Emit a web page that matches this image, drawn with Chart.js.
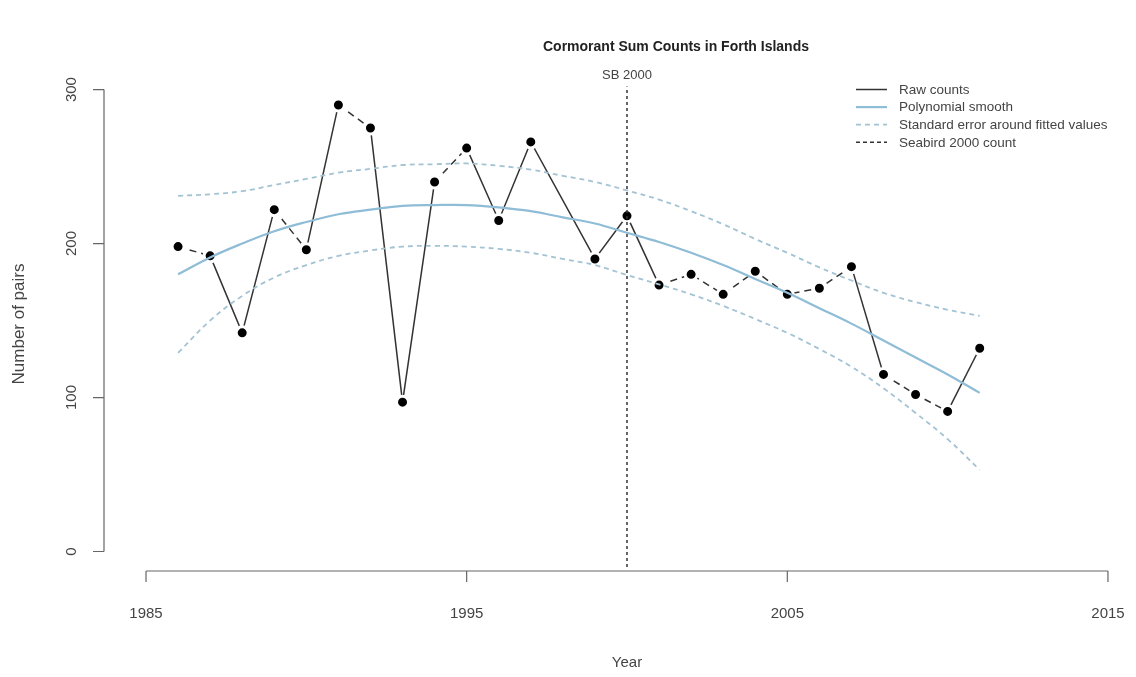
<!DOCTYPE html>
<html>
<head>
<meta charset="utf-8">
<script src="https://cdn.jsdelivr.net/npm/chart.js@4"></script>
<style>
  html, body { margin: 0; padding: 0; background: #ffffff; }
  #wrap { width: 1136px; height: 677px; position: relative; }
</style>
</head>
<body>
<div id="wrap"><canvas id="c" width="1136" height="677"></canvas></div>
<script>
// ---- data ----
const rawYears  = [1986,1987,1988,1989,1990,1991,1992,1993,1994,1995,1996,1997,1999,2000,2001,2002,2003,2004,2005,2006,2007,2008,2009,2010,2011];
const rawCounts = [198, 192, 142, 222, 196, 290, 275, 97, 240, 262, 215, 266, 190, 218, 173, 180, 167, 182, 167, 171, 185, 115, 102, 91, 132];

const fitYears   = [1986,1987,1988,1989,1990,1991,1992,1993,1994,1995,1996,1997,1998,1999,2000,2001,2002,2003,2004,2005,2006,2007,2008,2009,2010,2011];
const fitValues  = [180, 191, 200, 208, 214, 219, 222, 224.5, 225, 225, 223.5, 221, 217, 213, 207, 201, 194, 186, 177, 168, 158, 148, 137, 126, 115, 103];
const seUpper    = [231, 232, 234, 238, 242, 246, 248.5, 251, 251.5, 252, 250.5, 248, 244, 240, 234.5, 228.5, 221, 212.5, 203, 194, 184.5, 176, 168, 162, 157, 153];
const seLower    = [129, 150, 166, 178, 186, 192, 195.5, 198, 198.5, 198, 196.5, 194, 190, 186, 179.5, 173.5, 167, 159.5, 151, 142, 131.5, 120, 106, 90, 73, 53];

const sbYear   = 2000;
const sbSpan   = [-10, 302];
const xTicks   = [1985, 1995, 2005, 2015];
const yTicks   = [0, 100, 200, 300];

const titleText = 'Cormorant Sum Counts in Forth Islands';
const xTitle = 'Year';
const yTitle = 'Number of pairs';
const sbLabel = 'SB 2000';

// ---- build chart ----
const pts = (xs, ys) => xs.map((x, i) => ({ x: x, y: ys[i] }));

const FONT = '"Liberation Sans", Arial, Helvetica, sans-serif';

const rAxes = {
  id: 'rAxes',
  afterDraw(chart) {
    const ctx = chart.ctx;
    const xs = chart.scales.x, ys = chart.scales.y;
    const axX = 104, axY = 571, tick = 11;
    ctx.save();
    ctx.strokeStyle = '#666';
    ctx.lineWidth = 1.2;
    // y axis
    const y0 = ys.getPixelForValue(yTicks[0]), y1 = ys.getPixelForValue(yTicks[yTicks.length - 1]);
    ctx.beginPath();
    ctx.moveTo(axX, y0); ctx.lineTo(axX, y1);
    yTicks.forEach(v => { const p = ys.getPixelForValue(v); ctx.moveTo(axX, p); ctx.lineTo(axX - tick, p); });
    ctx.stroke();
    // x axis
    const x0 = xs.getPixelForValue(xTicks[0]), x1 = xs.getPixelForValue(xTicks[xTicks.length - 1]);
    ctx.beginPath();
    ctx.moveTo(x0, axY); ctx.lineTo(x1, axY);
    xTicks.forEach(v => { const p = xs.getPixelForValue(v); ctx.moveTo(p, axY); ctx.lineTo(p, axY + tick); });
    ctx.stroke();

    ctx.fillStyle = '#444';
    ctx.textAlign = 'center';
    ctx.textBaseline = 'middle';
    ctx.font = '15px ' + FONT;
    xTicks.forEach(v => ctx.fillText(String(v), xs.getPixelForValue(v), 614));
    yTicks.forEach(v => {
      ctx.save();
      ctx.translate(72, ys.getPixelForValue(v));
      ctx.rotate(-Math.PI / 2);
      ctx.fillText(String(v), 0, 0);
      ctx.restore();
    });
    // axis titles
    ctx.font = '15px ' + FONT;
    ctx.fillText(xTitle, (x0 + x1) / 2, 663);
    ctx.save();
    ctx.translate(19, 324);
    ctx.rotate(-Math.PI / 2);
    ctx.font = '17px ' + FONT;
    ctx.fillText(yTitle, 0, 0);
    ctx.restore();
    // title
    ctx.fillStyle = '#222';
    ctx.font = 'bold 14px ' + FONT;
    ctx.fillText(titleText, 676, 47);
    // SB label
    ctx.fillStyle = '#444';
    ctx.font = '13px ' + FONT;
    ctx.fillText(sbLabel, xs.getPixelForValue(sbYear), 75);

    // legend
    const items = chart.data.datasets.filter(d => d.legend !== false);
    const lx0 = 856, lx1 = 887, tx = 899;
    ctx.textAlign = 'left';
    ctx.font = '13.5px ' + FONT;
    items.forEach((d, i) => {
      const yy = 89.5 + i * 17.6;
      ctx.save();
      ctx.strokeStyle = d.borderColor;
      ctx.lineWidth = d.borderWidth;
      ctx.setLineDash(d.legendDash || d.borderDash || []);
      ctx.beginPath(); ctx.moveTo(lx0, yy); ctx.lineTo(lx1, yy); ctx.stroke();
      ctx.restore();
      ctx.fillStyle = '#444';
      ctx.fillText(d.label, tx, yy + 0.5);
    });
    ctx.restore();
  }
};

new Chart(document.getElementById('c'), {
  type: 'scatter',
  data: {
    datasets: [
      {
        label: 'Raw counts',
        data: pts(rawYears, rawCounts),
        showLine: true,
        borderColor: '#333333',
        borderWidth: 1.5,
        pointRadius: 6,
        pointBackgroundColor: '#000',
        pointBorderColor: '#ffffff',
        pointBorderWidth: 3,
        legendDash: [],
        segment: {
          borderDash: c => {
            const dy = Math.abs(c.p1.y - c.p0.y), dx = Math.abs(c.p1.x - c.p0.x);
            return dy / dx < 1.3 ? [7, 5] : undefined;
          }
        },
        order: 10
      },
      {
        label: 'Polynomial smooth',
        data: pts(fitYears, fitValues),
        showLine: true,
        borderColor: '#8fbcd6',
        borderWidth: 2.2,
        pointRadius: 0,
        tension: 0.4,
        order: 2
      },
      {
        label: 'Standard error around fitted values',
        data: pts(fitYears, seUpper),
        showLine: true,
        borderColor: '#a3c3d3',
        borderWidth: 1.8,
        borderDash: [5, 4],
        pointRadius: 0,
        tension: 0.4,
        order: 3
      },
      {
        label: 'Standard error lower',
        legend: false,
        data: pts(fitYears, seLower),
        showLine: true,
        borderColor: '#a3c3d3',
        borderWidth: 1.8,
        borderDash: [5, 4],
        pointRadius: 0,
        tension: 0.4,
        order: 3
      },
      {
        label: 'Seabird 2000 count',
        data: [{ x: sbYear, y: sbSpan[0] }, { x: sbYear, y: sbSpan[1] }],
        showLine: true,
        borderColor: '#333333',
        borderWidth: 1.5,
        borderDash: [3, 3],
        legendDash: [4, 3],
        pointRadius: 0,
        order: 4
      }
    ]
  },
  options: {
    responsive: false,
    animation: false,
    events: [],
    layout: { padding: { left: 104, right: 12, top: 70, bottom: 107 } },
    plugins: { legend: { display: false }, tooltip: { enabled: false }, title: { display: false } },
    scales: {
      x: { type: 'linear', min: 1983.69, max: 2015.5, display: false },
      y: { type: 'linear', min: -12, max: 312.7, display: false }
    }
  },
  plugins: [rAxes]
});
</script>
</body>
</html>
